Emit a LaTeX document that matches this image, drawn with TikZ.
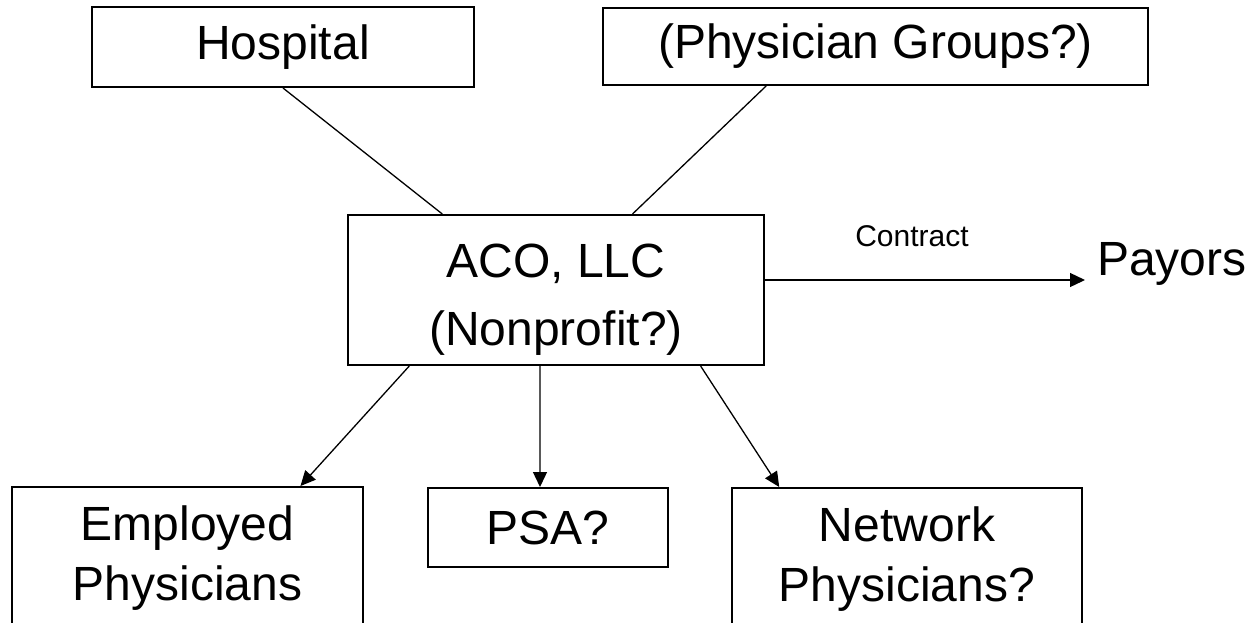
\documentclass[tikz,border=0pt]{standalone}
\usepackage{fontspec}
\setmainfont{Liberation Sans}
\usetikzlibrary{arrows.meta,calc,positioning}

\tikzset{
  box/.style={draw, line width=2pt, inner sep=0pt, align=center, font=\fontsize{48}{60}\selectfont},
  link/.style={line width=1.3pt},
  arr/.style={link, -{Triangle[length=15pt,width=14pt]}},
}

\begin{document}
\begin{tikzpicture}[x=1pt,y=-1pt]
  \useasboundingbox (0,0) rectangle (1256,622);
  \clip (0,0) rectangle (1256,622);

  % owners
  \node[box, minimum width=382pt, minimum height=80pt] (hosp) at (283,47) {Hospital};
  \node[box, minimum width=545pt, minimum height=77pt] (phys) at (875.5,46.5) {(Physician Groups?)};

  % the ACO itself
  \node[box, minimum width=416pt, minimum height=150pt, font=\fontsize{48}{68}\selectfont] (aco) at (556,290) {\rule{0pt}{52pt}ACO, LLC\\(Nonprofit?)};

  % participants
  \node[box, minimum width=351pt, minimum height=143pt] (emp) at (187.5,558.5) {Employed\\Physicians};
  \node[box, minimum width=240pt, minimum height=79pt] (psa) at (548,527.5) {PSA?};
  \node[box, minimum width=350pt, minimum height=143pt] (net) at (907,559.5) {Network\\Physicians?};

  % payors
  \node[font=\fontsize{48}{60}\selectfont, inner sep=0pt, anchor=base west] (payors) at (1097,275) {Payors};
  \node[font=\fontsize{30}{36}\selectfont, inner sep=0pt, anchor=base] (contract) at (912,246) {Contract};
  \coordinate (tip) at (1085,280);

  \draw[link] (hosp.south) -- ($(aco.north west)!0.228!(aco.north east)$);
  \draw[link] ($(phys.south west)!0.30!(phys.south east)$) -- ($(aco.north west)!0.683!(aco.north east)$);

  \draw[arr] (aco.east |- tip) -- (tip);

  \draw[arr] ($(aco.south west)!0.149!(aco.south east)$) -- ($(emp.north west)!0.82!(emp.north east)$);
  \draw[arr] ($(aco.south west)!0.4615!(aco.south east)$) -- ($(psa.north west)!0.467!(psa.north east)$);
  \draw[arr] ($(aco.south west)!0.846!(aco.south east)$) -- ($(net.north west)!0.137!(net.north east)$);
\end{tikzpicture}
\end{document}
